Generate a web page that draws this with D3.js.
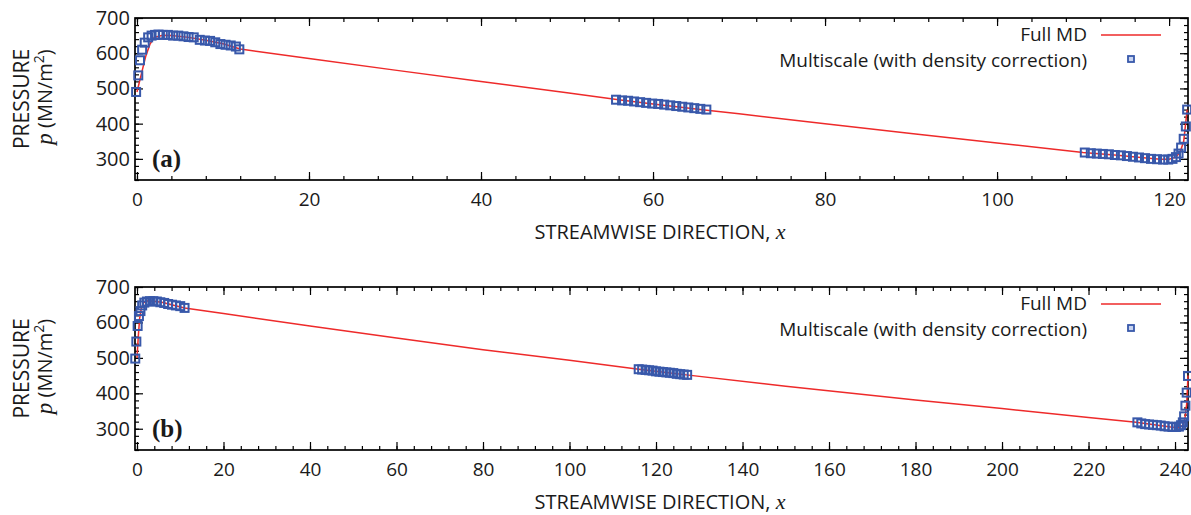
<!DOCTYPE html>
<html>
<meta charset="utf-8">
<style>
  body { margin: 0; background: #fff; }
  text { font-family: "Open Sans", "Noto Sans", sans-serif; fill: #1a1a1a; }
  .axis path, .axis line { stroke: #000; stroke-width: 1.2; }
  .mdline { fill: none; stroke: #ee2a2a; stroke-width: 1.5; }
  .symbol { fill: none; stroke: #3858aa; stroke-width: 2; }
</style>

<body>
  <script src="https://d3js.org/d3.v7.min.js"></script>

  <script>
    let width = 1191,
      height = 515;

    // ---- panel (a) data ----
    let mdA_x = [0, 0.5, 1.0, 1.5, 2.0, 3.0, 4.0, 6.0, 8.0, 10.0, 12.0, 20, 30, 40, 50, 56, 60, 66, 70, 80, 90, 100, 110, 114, 117, 119, 120, 120.8, 121.3, 121.7, 122.1];
    let mdA_p = [490, 540, 590, 625, 645, 651, 650, 645, 637, 627, 612, 585, 552, 520, 488, 468, 456, 439, 428, 400, 372, 345, 318, 310, 303, 299, 299, 305, 320, 350, 440];

    let msA_x = [-0.1, 0.15, 0.35, 0.6, 0.9, 1.3, 1.7, 2.1, 2.5, 3.0, 3.6, 4.2, 4.8, 5.4, 6.0, 6.6, 7.3, 7.9, 8.5, 9.1, 9.7, 10.3, 10.9, 11.5, 11.9,
      55.7, 56.4, 57.1, 57.8, 58.5, 59.2, 59.9, 60.6, 61.3, 62.0, 62.7, 63.4, 64.1, 64.8, 65.5, 66.2,
      110.2, 110.9, 111.6, 112.3, 113.0, 113.7, 114.4, 115.1, 115.8, 116.5, 117.2, 117.9, 118.6, 119.3, 119.9, 120.4, 120.8, 121.1, 121.4, 121.7, 121.95, 122.1];
    let msA_p = [490, 537, 580, 610, 630, 645, 650, 652, 653, 652, 652, 650, 650, 648, 646, 645, 638, 636, 635, 631, 626, 624, 622, 619, 611,
      468, 466, 465, 463, 461, 459, 457, 456, 454, 452, 450, 448, 446, 444, 442, 440,
      318, 316, 315, 314, 313, 311, 310, 308, 306, 304, 302, 300, 299, 298, 298, 300, 305, 315, 332, 357, 392, 440];

    // ---- panel (b) data ----
    let mdB_x = [0, 0.3, 0.6, 1, 1.5, 2.5, 4, 6, 8, 11, 20, 40, 60, 80, 100, 116, 127, 150, 180, 200, 220, 231, 236, 239, 241, 241.8, 242.3, 242.7, 243];
    let mdB_p = [500, 560, 610, 640, 655, 661, 660, 656, 650, 641, 625, 590, 556, 523, 493, 468, 452, 420, 381, 357, 332, 318, 310, 305, 303, 310, 330, 370, 450];

    let msB_x = [-0.4, -0.15, 0.15, 0.45, 0.8, 1.2, 1.7, 2.3, 3.0, 3.8, 4.6, 5.4, 6.3, 7.2, 8.1, 9.0, 10.0, 11.0,
      116.0, 116.8, 117.6, 118.4, 119.2, 120.0, 120.8, 121.6, 122.4, 123.2, 124.0, 124.8, 125.6, 126.4, 127.2,
      231.3, 232.2, 233.1, 234.0, 234.9, 235.8, 236.7, 237.6, 238.5, 239.4, 240.2, 240.9, 241.4, 241.8, 242.1, 242.4, 242.7, 243.0];
    let msB_p = [498, 546, 590, 618, 632, 648, 656, 659, 660, 660, 659, 657, 655, 652, 650, 648, 646, 641,
      468, 467, 466, 465, 464, 462, 461, 460, 459, 458, 457, 455, 454, 453, 452,
      318, 315, 313, 312, 311, 310, 309, 307, 306, 305, 305, 306, 310, 318, 335, 365, 402, 449];

    let yTicks = [300, 400, 500, 600, 700];
    let xTicksA = [0, 20, 40, 60, 80, 100, 120];
    let xTicksB = [0, 20, 40, 60, 80, 100, 120, 140, 160, 180, 200, 220, 240];

    let legendLabels = ["Full MD", "Multiscale (with density correction)"];

    let svg = d3.select("body").append("svg")
      .attr("width", width)
      .attr("height", height);

    function drawPanel(cfg) {
      let x = d3.scaleLinear().domain(cfg.xDomain).range([135, 1188]);
      let y = d3.scaleLinear().domain([240, 700]).range([cfg.bottom, cfg.top]);
      let g = svg.append("g");

      let minorX = d3.range(0, cfg.xDomain[1], cfg.minorStep);
      let minorY = d3.range(240, 701, 20);

      // ticks on all four sides, pointing inward
      g.append("g").attr("class", "axis").attr("transform", `translate(0,${cfg.bottom})`)
        .call(d3.axisBottom(x).tickValues(minorX).tickSize(-4).tickFormat(""))
        .call(a => a.select(".domain").remove());
      g.append("g").attr("class", "axis").attr("transform", `translate(0,${cfg.top})`)
        .call(d3.axisTop(x).tickValues(minorX).tickSize(-4).tickFormat(""))
        .call(a => a.select(".domain").remove());
      g.append("g").attr("class", "axis").attr("transform", `translate(0,${cfg.bottom})`)
        .call(d3.axisBottom(x).tickValues(cfg.xTicks).tickSize(-8).tickPadding(13))
        .call(a => a.select(".domain").remove())
        .call(a => a.selectAll("text").attr("font-size", 19));
      g.append("g").attr("class", "axis").attr("transform", `translate(0,${cfg.top})`)
        .call(d3.axisTop(x).tickValues(cfg.xTicks).tickSize(-8).tickFormat(""))
        .call(a => a.select(".domain").remove());

      g.append("g").attr("class", "axis").attr("transform", "translate(135,0)")
        .call(d3.axisLeft(y).tickValues(minorY).tickSize(-4).tickFormat(""))
        .call(a => a.select(".domain").remove());
      g.append("g").attr("class", "axis").attr("transform", "translate(1188,0)")
        .call(d3.axisRight(y).tickValues(minorY).tickSize(-4).tickFormat(""))
        .call(a => a.select(".domain").remove());
      g.append("g").attr("class", "axis").attr("transform", "translate(135,0)")
        .call(d3.axisLeft(y).tickValues(yTicks).tickSize(-8).tickPadding(5))
        .call(a => a.select(".domain").remove())
        .call(a => a.selectAll("text").attr("font-size", 20));
      g.append("g").attr("class", "axis").attr("transform", "translate(1188,0)")
        .call(d3.axisRight(y).tickValues(yTicks).tickSize(-8).tickFormat(""))
        .call(a => a.select(".domain").remove());

      g.append("rect")
        .attr("x", 135).attr("y", cfg.top)
        .attr("width", 1188 - 135).attr("height", cfg.bottom - cfg.top)
        .attr("fill", "none").attr("stroke", "#000").attr("stroke-width", 1.7);

      // full MD line
      let line = d3.line().x(d => x(d[0])).y(d => y(d[1]));
      g.append("path")
        .attr("class", "mdline")
        .datum(d3.zip(cfg.mdX, cfg.mdP))
        .attr("d", line);

      // multiscale markers
      g.selectAll(".symbol")
        .data(d3.zip(cfg.msX, cfg.msP))
        .join("rect")
        .attr("class", "symbol")
        .attr("x", d => x(d[0]) - 4)
        .attr("y", d => y(d[1]) - 4)
        .attr("width", 8).attr("height", 8);

      // panel label
      g.append("text")
        .attr("x", 152).attr("y", cfg.bottom - 13)
        .style("font-family", "'Liberation Serif', 'Times New Roman', serif")
        .style("font-weight", "bold").style("font-size", "25px")
        .text(cfg.label);

      // legend
      let ly = cfg.top + 17;
      g.append("text").attr("x", 1087).attr("y", ly + 6).attr("text-anchor", "end")
        .attr("font-size", 19).text(legendLabels[0]);
      g.append("line").attr("x1", 1101).attr("x2", 1161).attr("y1", ly).attr("y2", ly)
        .attr("stroke", "#ee2a2a").attr("stroke-width", 1.6);
      g.append("text").attr("x", 1087).attr("y", ly + 32).attr("text-anchor", "end")
        .attr("font-size", 19).text(legendLabels[1]);
      g.append("rect").attr("x", 1131 - 3).attr("y", ly + 24 - 3)
        .attr("width", 6).attr("height", 6)
        .attr("fill", "#c8d4f0").attr("stroke", "#3858aa").attr("stroke-width", 1.8);

      // x title
      let xt = g.append("text")
        .attr("x", 660).attr("y", cfg.bottom + 59)
        .attr("text-anchor", "middle").attr("font-size", 20);
      xt.append("tspan").text("STREAMWISE DIRECTION, ");
      xt.append("tspan").style("font-family", "'Liberation Serif', serif").style("font-style", "italic")
        .style("font-size", "22px").text("x");

      // y title
      let cy = (cfg.top + cfg.bottom) / 2;
      g.append("text")
        .attr("transform", `translate(29,${cy}) rotate(-90)`)
        .attr("text-anchor", "middle").attr("font-size", 21)
        .text("PRESSURE");
      let yt = g.append("text")
        .attr("transform", `translate(52,${cy - 2}) rotate(-90)`)
        .attr("text-anchor", "middle").attr("font-size", 20);
      yt.append("tspan").style("font-family", "'Liberation Serif', serif").style("font-style", "italic")
        .style("font-size", "23px").text("p");
      yt.append("tspan").text(" (MN/m");
      yt.append("tspan").attr("font-size", 14).attr("dy", -8).text("2");
      yt.append("tspan").attr("dy", 8).text(")");
    }

    drawPanel({
      top: 18, bottom: 180, xDomain: [-0.23, 122.2], minorStep: 4,
      xTicks: xTicksA, mdX: mdA_x, mdP: mdA_p, msX: msA_x, msP: msA_p, label: "(a)"
    });
    drawPanel({
      top: 287, bottom: 450, xDomain: [-0.46, 243.0], minorStep: 4,
      xTicks: xTicksB, mdX: mdB_x, mdP: mdB_p, msX: msB_x, msP: msB_p, label: "(b)"
    });
  </script>

</body>

</html>
